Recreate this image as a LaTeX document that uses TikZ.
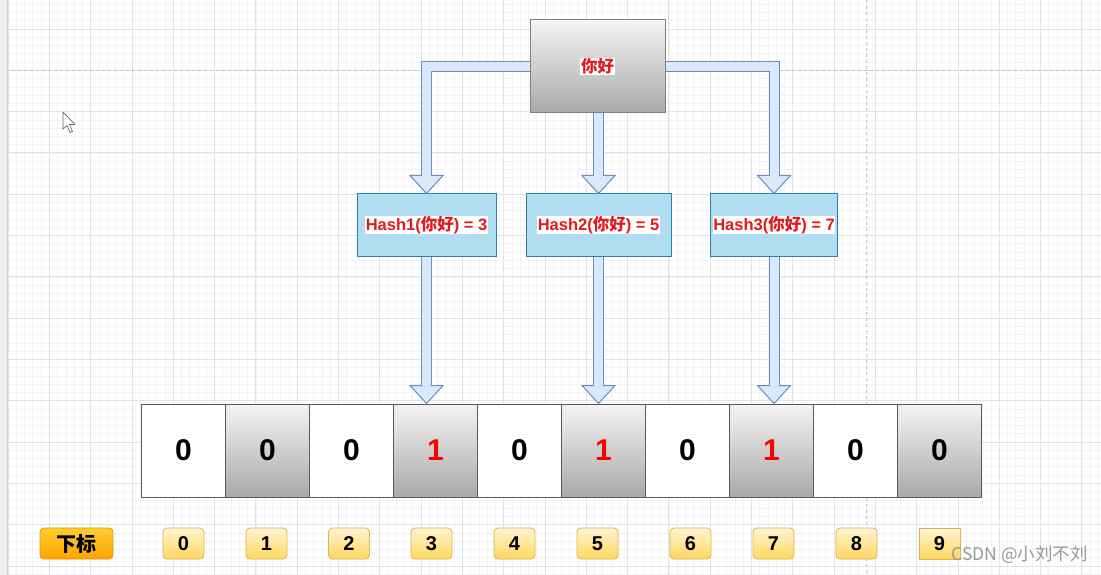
\documentclass[tikz,border=0pt]{standalone}
\usepackage{fontspec}
\setmainfont{Liberation Sans}
\newfontfamily\cjk{Noto Sans CJK SC}
\usetikzlibrary{calc}

\definecolor{arrowfill}{HTML}{DAE8FC}
\definecolor{arrowline}{HTML}{6C8EBF}
\definecolor{hashfill}{HTML}{B1DDF0}
\definecolor{hashline}{HTML}{2F7EA6}
\definecolor{celltop}{HTML}{F4F4F4}
\definecolor{cellbottom}{HTML}{A9A9A9}
\definecolor{cellline}{HTML}{5A5A5A}
\definecolor{idxtop}{HTML}{FFF4D2}
\definecolor{idxbottom}{HTML}{FFD75E}
\definecolor{idxline}{HTML}{D6B656}
\definecolor{subtop}{HTML}{FFCF2E}
\definecolor{subbottom}{HTML}{FFA200}
\definecolor{subline}{HTML}{D79B00}
\definecolor{hashred}{HTML}{E31A1C}
\definecolor{gridmajor}{HTML}{E3E3E3}
\definecolor{gridminor}{HTML}{F3F3F3}
\definecolor{pagebreak}{HTML}{C4C4C4}

% arrow tip at a named coordinate, pointing down
\newcommand{\downtip}[1]{%
  \draw[tipstyle] ($(#1)+(-16.5,-18)$) -- (#1) -- ($(#1)+(16.5,-18)$) -- cycle;}

\begin{document}
\begin{tikzpicture}[x=1pt, y=-1pt,
    minorgrid/.style={gridminor, line width=0.6pt},
    majorgrid/.style={gridmajor, line width=0.8pt},
    shaft/.style={draw=arrowline, line width=1pt, double=arrowfill, double distance=9pt},
    tipstyle/.style={draw=arrowline, fill=arrowfill, line width=1pt, line join=miter},
    srcbox/.style={draw=gray, line width=1pt, top color=celltop, bottom color=cellbottom,
      minimum width=135pt, minimum height=93pt, inner sep=0},
    hashbox/.style={draw=hashline, fill=hashfill, line width=1pt, minimum height=62pt, inner sep=0},
    tag/.style={fill=white, inner sep=0.6pt, text=hashred, font=\bfseries\fontsize{16.5}{19}\selectfont},
    cell0/.style={draw=cellline, fill=white, line width=1pt, minimum width=84pt, minimum height=93pt},
    cell1/.style={cell0, top color=celltop, bottom color=cellbottom},
    digit0/.style={text=black},
    digit1/.style={text=red},
    idxbox/.style={draw=idxline, line width=0.8pt, rounded corners=4pt, top color=idxtop,
      bottom color=idxbottom, minimum width=41pt, minimum height=31pt,
      font=\bfseries\fontsize{20}{22}\selectfont},
  ]
  \useasboundingbox (0,0) rectangle (1101,575);
  \fill[white] (0,0) rectangle (1101,575);

  % background grid
  \foreach \k in {0,...,134} \draw[minorgrid] ({-0.26+8.26*\k},0) -- ({-0.26+8.26*\k},575);
  \foreach \k in {0,...,69} \draw[minorgrid] (0,{4.22+8.26*\k}) -- (1101,{4.22+8.26*\k});
  \foreach \k in {0,...,26} \draw[majorgrid] ({8+41.3*\k},0) -- ({8+41.3*\k},575);
  \foreach \k in {0,...,13} \draw[majorgrid] (0,{29+41.3*\k}) -- (1101,{29+41.3*\k});
  \draw[pagebreak, line width=1pt, dash pattern=on 3pt off 3pt] (0,70.5) -- (1101,70.5);
  \draw[pagebreak, line width=1pt, dash pattern=on 3pt off 3pt] (866,0) -- (866,575);
  \fill[gray!12] (0,0) rectangle (7,575);
  \draw[gray!35] (7,0) -- (7,575);

  % mouse pointer
  \draw[gray!80!black, fill=white, line width=0.7pt, line join=round]
    (63,112) -- (63,129) -- (67,125.5) -- (70,132.5) -- (72.5,131.5) -- (69.5,124.5) -- (75,124.5) -- cycle;

  % boxes
  \node[srcbox] (src) at (597.5,66.5) {};
  \node[hashbox, minimum width=139pt] (h1) at (426.5,225) {};
  \node[hashbox, minimum width=145pt] (h2) at (598.5,225) {};
  \node[hashbox, minimum width=127pt] (h3) at (774,225) {};

  \foreach \v [count=\i from 0, evaluate=\i as \shade using {int(mod(\i,2))}] in {0,0,0,1,0,1,0,1,0,0} {
    \node[cell\shade, digit\v, font=\bfseries\fontsize{30}{34}\selectfont] (c\i) at ({183.5+84*\i},450.5) {\v};
  }

  % tips of the block arrows
  \coordinate (t1) at (h1.north);
  \coordinate (t2) at (h2.north);
  \coordinate (t3) at (h3.north);
  \coordinate (b1) at (h1.south |- c3.north);
  \coordinate (b2) at (h2.south |- c5.north);
  \coordinate (b3) at (h3.south |- c7.north);
  \foreach \t in {t1,t2,t3,b1,b2,b3} \downtip{\t};

  \draw[shaft] (src.west) -| ($(t1)+(0,-17.5)$);
  \draw[shaft] (t2 |- src.south) -- ($(t2)+(0,-17.5)$);
  \draw[shaft] (src.east) -| ($(t3)+(0,-17.5)$);
  \draw[shaft] (h1.south) -- ($(b1)+(0,-17.5)$);
  \draw[shaft] (h2.south) -- ($(b2)+(0,-17.5)$);
  \draw[shaft] (h3.south) -- ($(b3)+(0,-17.5)$);
  \node[srcbox] at (src) {};

  % labels
  \node[tag] (srctext) at (src) {\cjk 你好};
  \node[tag] (h1text) at (h1) {Hash1({\cjk 你好}) = 3};
  \node[tag] (h2text) at (h2) {Hash2({\cjk 你好}) = 5};
  \node[tag] (h3text) at (h3) {Hash3({\cjk 你好}) = 7};

  % index row
  \node[idxbox, draw=subline, top color=subtop, bottom color=subbottom, minimum width=73pt]
    (sub) at (76.5,543.5) {\cjk 下标};
  \foreach \x/\n in {183.5/0, 266.5/1, 349/2, 431.5/3, 514.5/4, 597.5/5, 690.5/6, 773.5/7, 856.5/8} {
    \node[idxbox] (i\n) at (\x,543.5) {\n};
  }
  \node[idxbox, rounded corners=0pt] (i9) at (939.5,543.5) {9};

  % watermark
  \node[text=gray!80, font=\cjk\fontsize{17.5}{20}\selectfont, anchor=west] (mark) at (948,555) {CSDN @小刘不刘};
\end{tikzpicture}
\end{document}
